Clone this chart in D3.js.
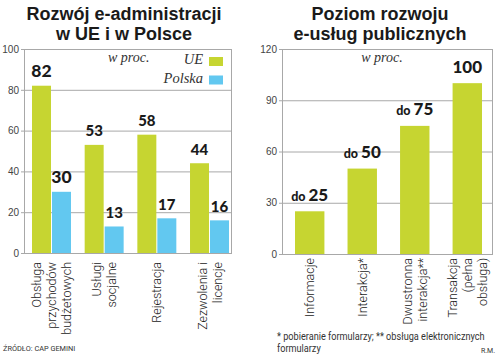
<!DOCTYPE html>
<html>
<head>
<meta charset="utf-8">
<script src="https://cdn.jsdelivr.net/npm/d3@7"></script>
<style>
  body { margin: 0; background: #fff; }
  svg { display: block; }
  .tick text { font-family: "Liberation Sans", Arial, sans-serif; font-size: 10px; fill: #444; }
  .domain { display: none; }
</style>
</head>
<body>
<svg width="500" height="358"></svg>
<script>
// left chart data
const leftCategories = [["Obsługa", "przychodów", "budżetowych"], ["Usługi", "socjalne"], ["Rejestracja"], ["Zezwolenia i", "licencje"]];
const ueValues = [82, 53, 58, 44];
const plValues = [30, 13, 17, 16];
const leftTicks = [0, 20, 40, 60, 80, 100];
const seriesNames = ["UE", "Polska"];

// right chart data
const rightCategories = [["Informacje"], ["Interakcja*"], ["Dwustronna", "interakcja**"], ["Transakcja", "(pełna", "obsługa)"]];
const levelValues = [25, 50, 75, 100];
const levelPrefix = ["do", "do", "do", ""];
const rightTicks = [0, 30, 60, 90, 120];

const green = "#c6d531";
const blue = "#62c8f0";
const frameColor = "#a8a8a8";

const svg = d3.select("svg");

function title(lines, cx) {
  svg.append("g").selectAll("text")
    .data(lines)
    .enter().append("text")
    .attr("x", cx)
    .attr("y", (d, i) => 20 + i * 19.5)
    .attr("text-anchor", "middle")
    .style("font-family", "'Liberation Sans', Arial, sans-serif")
    .style("font-weight", "bold")
    .style("font-size", "18px")
    .style("fill", "#1a1a1a")
    .text(d => d);
}

// frame, gridlines and y ticks
function frame(left, right, y, ticks) {
  const w = right - left;
  svg.append("g")
    .attr("transform", "translate(" + right + ",0)")
    .call(d3.axisLeft(y).tickValues(ticks).tickSize(w + 3).tickPadding(2))
    .selectAll(".tick line").attr("stroke", frameColor);
  svg.append("rect")
    .attr("x", left + 0.5)
    .attr("y", y.range()[1] + 0.5)
    .attr("width", w)
    .attr("height", y.range()[0] - y.range()[1])
    .attr("fill", "none")
    .attr("stroke", frameColor);
}

function catLabels(cats, xc, top) {
  const lh = 15;
  cats.forEach((lines, gi) => {
    const cx = xc(gi);
    lines.forEach((t, i) => {
      const bx = cx + (i - (lines.length - 1) / 2) * lh + 4.5;
      svg.append("text")
        .attr("transform", "translate(" + bx + "," + top + ") rotate(-90)")
        .attr("text-anchor", "end")
        .style("font-family", "Roboto, 'Liberation Sans', sans-serif")
        .style("font-weight", "300")
        .style("font-size", "12.5px")
        .style("fill", "#222")
        .text(t);
    });
  });
}

// ---------- left chart ----------
const yL = d3.scaleLinear().domain([0, 100]).range([253, 49]);
const x0 = d3.scaleBand().domain(d3.range(leftCategories.length)).range([32, 229]).paddingInner(0.26).paddingOuter(0);
const x1 = d3.scaleBand().domain(seriesNames).range([0, x0.bandwidth()]).paddingInner(0.05);

title(["Rozwój e-administracji", "w UE i w Polsce"], 124);
frame(24, 231, yL, leftTicks);

const leftRows = ueValues.map((v, i) => ({ i: i, vals: [{ s: "UE", v: v }, { s: "Polska", v: plValues[i] }] }));
const groups = svg.append("g").selectAll("g")
  .data(leftRows)
  .enter().append("g")
  .attr("transform", d => "translate(" + x0(d.i) + ",0)");

groups.selectAll("rect")
  .data(d => d.vals)
  .enter().append("rect")
  .attr("x", d => x1(d.s))
  .attr("y", d => yL(d.v))
  .attr("width", x1.bandwidth())
  .attr("height", d => yL(0) - yL(d.v))
  .attr("fill", d => d.s == "UE" ? green : blue);

groups.each(function (g) {
  d3.select(this).selectAll("text.val")
    .data(g.vals)
    .enter().append("text")
    .attr("class", "val")
    .attr("x", d => x1(d.s) + x1.bandwidth() / 2)
    .attr("y", d => yL(d.v) - 8.5)
    .attr("text-anchor", "middle")
    .style("font-family", "Lato, 'Open Sans', sans-serif")
    .style("font-weight", "900")
    .style("font-size", g.i == 0 ? "17.5px" : "15px")
    .style("fill", "#1a1a1a")
    .text(d => d.v);
});

catLabels(leftCategories, i => x0(i) + x0.bandwidth() / 2, 262);

// legend
const serif = "'Liberation Serif', 'DejaVu Serif', serif";
svg.append("text").attr("x", 108).attr("y", 62)
  .style("font-family", serif).style("font-style", "italic").style("font-size", "14px").style("fill", "#333")
  .text("w proc.");
seriesNames.forEach((s, i) => {
  svg.append("text").attr("x", 203).attr("y", 64 + i * 19)
    .attr("text-anchor", "end")
    .style("font-family", serif).style("font-style", "italic").style("font-size", "14.5px").style("fill", "#333")
    .text(s);
  svg.append("rect").attr("x", 209).attr("y", 57 + i * 18.5).attr("width", 14).attr("height", 9)
    .attr("fill", i == 0 ? green : blue);
});

// ---------- right chart ----------
const yR = d3.scaleLinear().domain([0, 120]).range([254, 49]);
const xR = d3.scaleBand().domain(d3.range(rightCategories.length)).range([295, 482]).paddingInner(0.44).paddingOuter(0);

title(["Poziom rozwoju", "e-usług publicznych"], 380);
frame(282, 492, yR, rightTicks);

svg.append("g").selectAll("rect")
  .data(levelValues)
  .enter().append("rect")
  .attr("x", (d, i) => xR(i))
  .attr("y", d => yR(d))
  .attr("width", xR.bandwidth())
  .attr("height", d => yR(0) - yR(d))
  .attr("fill", green);

const lv = svg.append("g").selectAll("text")
  .data(levelValues)
  .enter().append("text")
  .attr("x", (d, i) => xR(i) + xR.bandwidth() / 2)
  .attr("y", d => yR(d) - 10.5)
  .attr("text-anchor", "middle")
  .style("font-family", "Lato, 'Open Sans', sans-serif")
  .style("font-weight", "900")
  .style("fill", "#1a1a1a");
lv.append("tspan")
  .style("font-size", "12.5px")
  .text((d, i) => levelPrefix[i] ? levelPrefix[i] + " " : "");
lv.append("tspan")
  .style("font-size", "17px")
  .text(d => d);

svg.append("text").attr("x", 382).attr("y", 62)
  .attr("text-anchor", "middle")
  .style("font-family", serif).style("font-style", "italic").style("font-size", "14px").style("fill", "#333")
  .text("w proc.");

catLabels(rightCategories, i => xR(i) + xR.bandwidth() / 2, 258);

// ---------- footnotes ----------
// narrow type is imitated with a horizontal squeeze
const small = "Roboto, 'Liberation Sans', sans-serif";
function note(t, x, y, size, sx, anchor) {
  svg.append("text")
    .attr("transform", "translate(" + x + "," + y + ") scale(" + sx + ",1)")
    .attr("text-anchor", anchor || "start")
    .style("font-family", small).style("font-size", size + "px").style("fill", "#333")
    .text(t);
}
note("ŹRÓDŁO: CAP GEMINI", 3, 351, 8, 0.92);
note("* pobieranie formularzy; ** obsługa elektronicznych", 277, 340, 10, 0.915);
note("formularzy", 277, 351.5, 10, 0.915);
note("R.M.", 495, 353, 7, 1, "end");
</script>
</body>
</html>
